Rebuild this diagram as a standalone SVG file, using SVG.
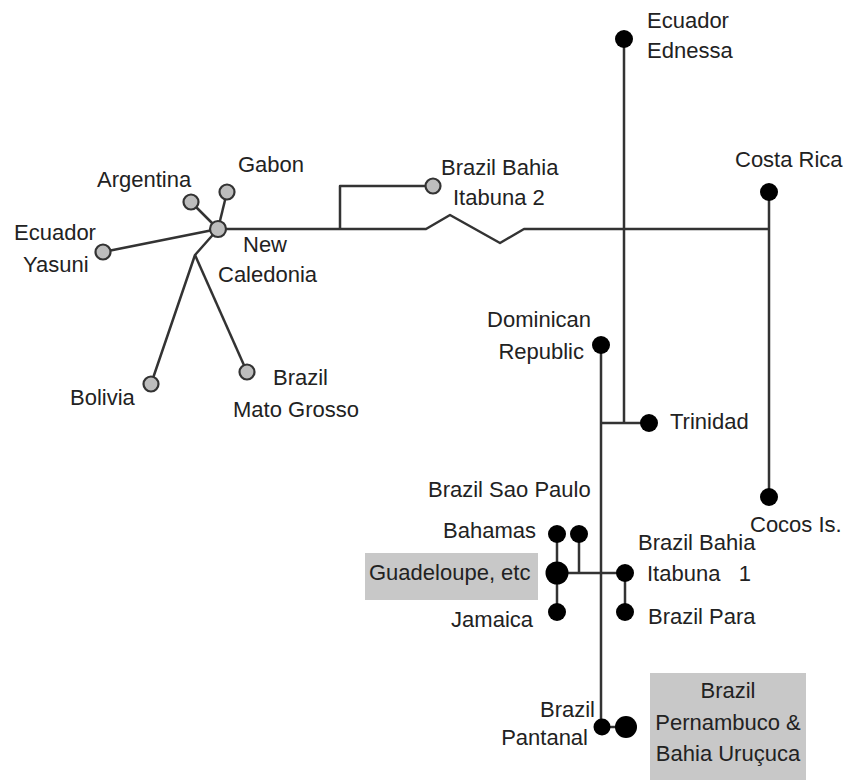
<svg xmlns="http://www.w3.org/2000/svg" width="853" height="780" viewBox="0 0 853 780">
<style>
text{font-family:"Liberation Sans",Arial,sans-serif;font-size:22px;fill:#222}
.e{stroke:#333;stroke-width:2.5;fill:none;stroke-linejoin:round}
.g{fill:#bdbdbd;stroke:#333;stroke-width:2.2}
.b{fill:#000}
.box{fill:#c8c8c8}
.r{text-anchor:end}
.m{text-anchor:middle}
</style>
<rect width="853" height="780" fill="#fff"/>
<g id="connectors">
<path class="e" d="M103,252 L218,229"/>
<path class="e" d="M191,202 L218,229"/>
<path class="e" d="M227,192 L218,229"/>
<path class="e" d="M218,229 L195,255 L151,384"/>
<path class="e" d="M195,255 L247,372"/>
<path class="e" d="M218,229 L426,229 L450,215 L500,243 L524,229 L769,229"/>
<path class="e" d="M340,229 L340,186 L433,186"/>
<path class="e" d="M769,192 L769,497"/>
<path class="e" d="M624,39 L624,423"/>
<path class="e" d="M601,345 L601,727 L626,727"/>
<path class="e" d="M601,423 L649,423"/>
<path class="e" d="M557,534 L557,612"/>
<path class="e" d="M579,534 L579,573"/>
<path class="e" d="M557,573 L625,573 L625,612"/>
</g>
<g id="guadeloupe-box"><rect class="box" x="365" y="553" width="173" height="47"/><text x="369" y="580">Guadeloupe, etc</text></g>
<g id="pernambuco-box"><rect class="box" x="650" y="673" width="156" height="107"/>
<text class="m" x="728" y="698">Brazil</text><text class="m" x="728" y="730">Pernambuco &amp;</text><text class="m" x="728" y="761">Bahia Uruçuca</text></g>
<g id="new-caledonia"><circle class="g" cx="218" cy="229" r="8"/><text x="243" y="252">New</text><text x="218" y="282">Caledonia</text></g>
<g id="argentina"><circle class="g" cx="191" cy="202" r="7.5"/><text x="97" y="187">Argentina</text></g>
<g id="gabon"><circle class="g" cx="227" cy="192" r="7.5"/><text x="238" y="172">Gabon</text></g>
<g id="ecuador-yasuni"><circle class="g" cx="103" cy="252" r="7.5"/><text x="14" y="240">Ecuador</text><text x="23" y="272">Yasuni</text></g>
<g id="bolivia"><circle class="g" cx="151" cy="384" r="7.5"/><text x="70" y="405">Bolivia</text></g>
<g id="mato-grosso"><circle class="g" cx="247" cy="372" r="7.5"/><text x="273" y="385">Brazil</text><text x="233" y="417">Mato Grosso</text></g>
<g id="itabuna2"><circle class="g" cx="433" cy="186" r="7.5"/><text x="441" y="175">Brazil Bahia</text><text x="453" y="205">Itabuna 2</text></g>
<g id="ecuador-ednessa"><circle class="b" cx="624" cy="39" r="9"/><text x="647" y="28">Ecuador</text><text x="647" y="58">Ednessa</text></g>
<g id="costa-rica"><circle class="b" cx="769" cy="192" r="9"/><text x="735" y="167">Costa Rica</text></g>
<g id="cocos"><circle class="b" cx="769" cy="497" r="9"/><text x="750" y="532">Cocos Is.</text></g>
<g id="dominican"><circle class="b" cx="601" cy="345" r="9"/><text class="r" x="591" y="327">Dominican</text><text class="r" x="584" y="359">Republic</text></g>
<g id="trinidad"><circle class="b" cx="649" cy="423" r="9"/><text x="670" y="429">Trinidad</text></g>
<g id="sao-paulo"><text x="428" y="497">Brazil Sao Paulo</text><circle class="b" cx="579" cy="534" r="9"/></g>
<g id="bahamas"><circle class="b" cx="557" cy="534" r="9"/><text class="r" x="536" y="538">Bahamas</text></g>
<g id="guadeloupe"><circle class="b" cx="557" cy="573" r="11.5"/></g>
<g id="jamaica"><circle class="b" cx="557" cy="612" r="9"/><text class="r" x="533" y="627">Jamaica</text></g>
<g id="itabuna1"><circle class="b" cx="625" cy="573" r="9"/><text x="638" y="550">Brazil Bahia</text><text x="647" y="581" xml:space="preserve">Itabuna   1</text></g>
<g id="brazil-para"><circle class="b" cx="625" cy="612" r="9"/><text x="648" y="624">Brazil Para</text></g>
<g id="pantanal"><circle class="b" cx="602" cy="727" r="8.5"/><text class="r" x="595" y="717">Brazil</text><text class="r" x="588" y="745">Pantanal</text></g>
<g id="pernambuco"><circle class="b" cx="626" cy="727" r="11"/></g>
</svg>
